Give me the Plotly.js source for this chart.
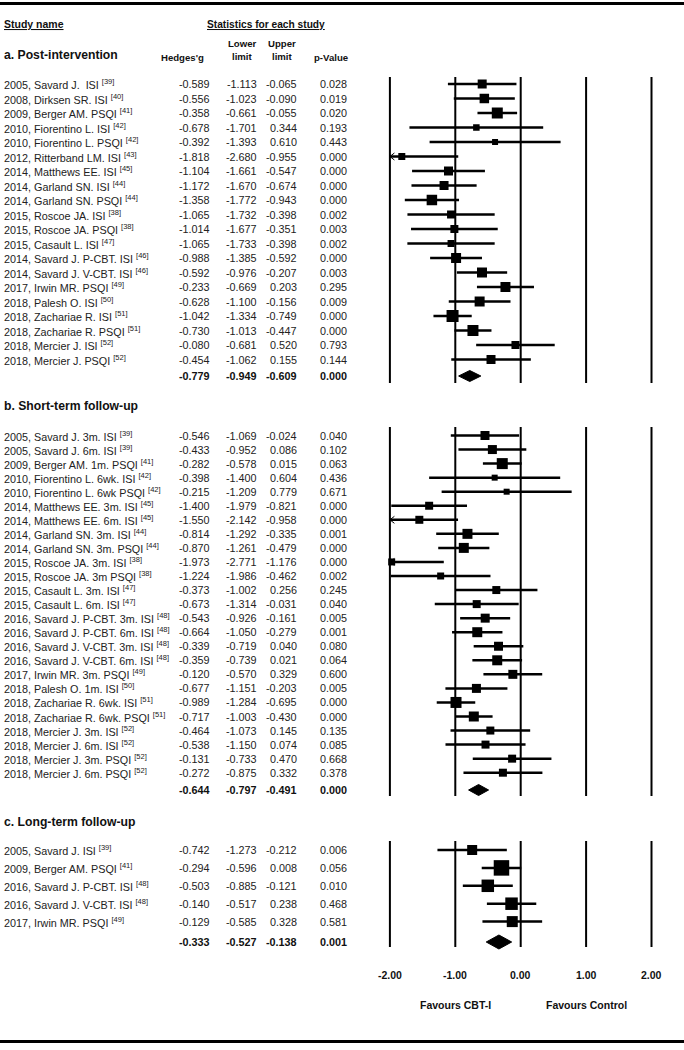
<!DOCTYPE html>
<html><head><meta charset="utf-8">
<script src="https://cdn.plot.ly/plotly-3.0.1.min.js"></script>
<style>html,body{margin:0;padding:0;background:#fff}#chart{width:684px;height:1050px}</style>
</head><body><div id="chart"></div>
<script>
// ---------- DATA ----------
const namesA = ["2005, Savard J.  ISI","2008, Dirksen SR. ISI","2009, Berger AM. PSQI","2010, Fiorentino L. ISI","2010, Fiorentino L. PSQI","2012, Ritterband LM. ISI","2014, Matthews EE. ISI","2014, Garland SN. ISI","2014, Garland SN. PSQI","2015, Roscoe JA. ISI","2015, Roscoe JA. PSQI","2015, Casault L. ISI","2014, Savard J. P-CBT. ISI","2014, Savard J. V-CBT. ISI","2017, Irwin MR. PSQI","2018, Palesh O. ISI","2018, Zachariae R. ISI","2018, Zachariae R. PSQI","2018, Mercier J. ISI","2018, Mercier J. PSQI"];
const refsA = [39,40,41,42,42,43,45,44,44,38,38,47,46,46,49,50,51,51,52,52];
const gA   = [-0.589,-0.556,-0.358,-0.678,-0.392,-1.818,-1.104,-1.172,-1.358,-1.065,-1.014,-1.065,-0.988,-0.592,-0.233,-0.628,-1.042,-0.730,-0.080,-0.454];
const lowA = [-1.113,-1.023,-0.661,-1.701,-1.393,-2.680,-1.661,-1.670,-1.772,-1.732,-1.677,-1.733,-1.385,-0.976,-0.669,-1.100,-1.334,-1.013,-0.681,-1.062];
const upA  = [-0.065,-0.090,-0.055,0.344,0.610,-0.955,-0.547,-0.674,-0.943,-0.398,-0.351,-0.398,-0.592,-0.207,0.203,-0.156,-0.749,-0.447,0.520,0.155];
const pA   = [0.028,0.019,0.020,0.193,0.443,0.000,0.000,0.000,0.000,0.002,0.003,0.002,0.000,0.003,0.295,0.009,0.000,0.000,0.793,0.144];
const weightA = [9,9.5,11,6.5,6,7,9,9,10.5,8,8,7,10,10,10,10,12,11,8,9];
const summaryA = [-0.779,-0.949,-0.609,0.000];

const namesB = ["2005, Savard J. 3m. ISI","2005, Savard J. 6m. ISI","2009, Berger AM. 1m. PSQI","2010, Fiorentino L. 6wk. ISI","2010, Fiorentino L. 6wk PSQI","2014, Matthews EE. 3m. ISI","2014, Matthews EE. 6m. ISI","2014, Garland SN. 3m. ISI","2014, Garland SN. 3m. PSQI","2015, Roscoe JA. 3m. ISI","2015, Roscoe JA. 3m PSQI","2015, Casault L. 3m. ISI","2015, Casault L. 6m. ISI","2016, Savard J. P-CBT. 3m. ISI","2016, Savard J. P-CBT. 6m. ISI","2016, Savard J. V-CBT. 3m. ISI","2016, Savard J. V-CBT. 6m. ISI","2017, Irwin MR. 3m. PSQI","2018, Palesh O. 1m. ISI","2018, Zachariae R. 6wk. ISI","2018, Zachariae R. 6wk. PSQI","2018, Mercier J. 3m. ISI","2018, Mercier J. 6m. ISI","2018, Mercier J. 3m. PSQI","2018, Mercier J. 6m. PSQI"];
const refsB = [39,39,41,42,42,45,45,44,44,38,38,47,47,48,48,48,48,49,50,51,51,52,52,52,52];
const gB   = [-0.546,-0.433,-0.282,-0.398,-0.215,-1.400,-1.550,-0.814,-0.870,-1.973,-1.224,-0.373,-0.673,-0.543,-0.664,-0.339,-0.359,-0.120,-0.677,-0.989,-0.717,-0.464,-0.538,-0.131,-0.272];
const lowB = [-1.069,-0.952,-0.578,-1.400,-1.209,-1.979,-2.142,-1.292,-1.261,-2.771,-1.986,-1.002,-1.314,-0.926,-1.050,-0.719,-0.739,-0.570,-1.151,-1.284,-1.003,-1.073,-1.150,-0.733,-0.875];
const upB  = [-0.024,0.086,0.015,0.604,0.779,-0.821,-0.958,-0.335,-0.479,-1.176,-0.462,0.256,-0.031,-0.161,-0.279,0.040,0.021,0.329,-0.203,-0.695,-0.430,0.145,0.074,0.470,0.332];
const pB   = [0.040,0.102,0.063,0.436,0.671,0.000,0.000,0.001,0.000,0.000,0.002,0.245,0.040,0.005,0.001,0.080,0.064,0.600,0.005,0.000,0.000,0.135,0.085,0.668,0.378];
const weightB = [9,9,11,6,6,8,8,10,10,7,7,8,8,9,10,9,10,9,9,11,10,8,8,8,8];
const summaryB = [-0.644,-0.797,-0.491,0.000];

const namesC = ["2005, Savard J. ISI","2009, Berger AM. PSQI","2016, Savard J. P-CBT. ISI","2016, Savard J. V-CBT. ISI","2017, Irwin MR. PSQI"];
const refsC = [39,41,48,48,49];
const gC   = [-0.742,-0.294,-0.503,-0.140,-0.129];
const lowC = [-1.273,-0.596,-0.885,-0.517,-0.585];
const upC  = [-0.212,0.008,-0.121,0.238,0.328];
const pC   = [0.006,0.056,0.010,0.468,0.581];
const weightC = [10,15.5,12.5,12.5,11];
const summaryC = [-0.333,-0.527,-0.138,0.001];

const tickVals = [-2,-1,0,1,2];
const tickText = ["-2.00","-1.00","0.00","1.00","2.00"];
const sectionTitles = ["a. Post-intervention","b. Short-term follow-up","c. Long-term follow-up"];

// ---------- LAYOUT CONSTANTS ----------
const W = 684, H = 1050;
const PX0 = 520.7, PXU = 65.4;          // pixel of x=0, pixels per unit
const XMIN = -2;
const FONT = "Liberation Sans, Arial, Helvetica, sans-serif";
const TXT = "#222";
const sections = [
  {title:sectionTitles[0], titleY:55, y0:84, dy:14.5, sumY:376, gTop:77, gBot:383, dh:5.5,
   names:namesA, refs:refsA, g:gA, lo:lowA, up:upA, p:pA, w:weightA, sum:summaryA},
  {title:sectionTitles[1], titleY:406, y0:435.5, dy:14.05, sumY:790, gTop:427, gBot:796, dh:5.5,
   names:namesB, refs:refsB, g:gB, lo:lowB, up:upB, p:pB, w:weightB, sum:summaryB},
  {title:sectionTitles[2], titleY:822, y0:850, dy:17.9, sumY:942, gTop:841, gBot:947, dh:7,
   names:namesC, refs:refsC, g:gC, lo:lowC, up:upC, p:pC, w:weightC, sum:summaryC}
];
const colRight = [211, 258, 298, 348]; // right edges of value columns (px)

const annotations = [];
function txt(px, y, text, o) {
  o = o || {};
  annotations.push({
    xref:"paper", yref:"y", x:px / W, y:y, text:text, showarrow:false,
    xanchor:o.anchor || "left", yanchor:"middle", align:o.align || "left",
    borderpad:0,
    font:{family:FONT, size:o.size || 11, color:o.color || TXT}
  });
}

// headers
txt(3, 24, "<b><u>Study name</u></b>", {size:10.5, color:"#111"});
txt(266, 24, "<b><u>Statistics for each study</u></b>", {size:10.2, anchor:"center", color:"#111"});
txt(182, 57, "<b>Hedges'g</b>", {size:9.6, anchor:"center", color:"#111"});
txt(242, 43, "<b>Lower</b>", {size:9.6, anchor:"center", color:"#111"});
txt(242, 56, "<b>limit</b>", {size:9.6, anchor:"center", color:"#111"});
txt(282, 43, "<b>Upper</b>", {size:9.6, anchor:"center", color:"#111"});
txt(282, 56, "<b>limit</b>", {size:9.6, anchor:"center", color:"#111"});
txt(331, 57, "<b>p-Value</b>", {size:9.6, anchor:"center", color:"#111"});

const ciX = [], ciY = [], sqX = [], sqY = [], sqS = [], arX = [], arY = [];
const shapes = [];
const traces = [];
const fmt = v => v.toFixed(3);

sections.forEach(s => {
  txt(3, s.titleY, "<b>" + s.title + "</b>", {size:12.2, color:"#111"});
  s.names.forEach((nm, i) => {
    const y = s.y0 + i * s.dy;
    txt(3, y, nm.replace(/  /g, " \u00a0") + " <sup>[" + s.refs[i] + "]</sup>", {size:10.8});
    [s.g[i], s.lo[i], s.up[i], s.p[i]].forEach((v, k) => txt(colRight[k], y, fmt(v), {anchor:"right", align:"right", size:10.8}));
    const lo = Math.max(s.lo[i], XMIN);
    ciX.push(lo, s.up[i], null); ciY.push(y, y, null);
    sqX.push(s.g[i]); sqY.push(y); sqS.push(s.w[i]);
    if (s.lo[i] < XMIN) {
      const dx = 4.5 / PXU;
      arX.push(XMIN + dx, XMIN, XMIN + dx, null); arY.push(y - 3.5, y, y + 3.5, null);
    }
  });
  // summary row
  s.sum.forEach((v, k) => txt(colRight[k], s.sumY, "<b>" + fmt(v) + "</b>", {anchor:"right", align:"right", color:"#111", size:10.8}));
  traces.push({
    type:"scatter", mode:"lines", fill:"toself", fillcolor:"#000",
    x:[s.sum[1], s.sum[0], s.sum[2], s.sum[0], s.sum[1]],
    y:[s.sumY, s.sumY - s.dh, s.sumY, s.sumY + s.dh, s.sumY],
    line:{color:"#000", width:1}, hoverinfo:"skip"
  });
  // vertical reference lines for the section
  tickVals.forEach(t => shapes.push({type:"line", xref:"x", yref:"y", x0:t, x1:t, y0:s.gTop, y1:s.gBot,
    layer:"below", line:{color:"#000", width:2}}));
});

traces.unshift(
  {type:"scatter", mode:"lines", x:ciX, y:ciY, line:{color:"#000", width:2.5}, hoverinfo:"skip"},
  {type:"scatter", mode:"lines", x:arX, y:arY, line:{color:"#000", width:1}, hoverinfo:"skip"},
  {type:"scatter", mode:"markers", x:sqX, y:sqY, opacity:1,
   marker:{symbol:"square", size:sqS, opacity:1, color:"#000", line:{width:0}}, hoverinfo:"skip"}
);

// axis tick labels & favours labels
tickVals.forEach((t, k) => annotations.push({xref:"x", yref:"y", x:t, y:975, text:"<b>" + tickText[k] + "</b>",
  showarrow:false, xanchor:"center", yanchor:"middle", font:{family:FONT, size:10.5, color:"#111"}}));
annotations.push({xref:"x", yref:"y", x:-1, y:1005, text:"<b>Favours CBT-I</b>", showarrow:false,
  xanchor:"center", yanchor:"middle", font:{family:FONT, size:10.5, color:"#111"}});
annotations.push({xref:"x", yref:"y", x:1, y:1005, text:"<b>Favours Control</b>", showarrow:false,
  xanchor:"center", yanchor:"middle", font:{family:FONT, size:10.5, color:"#111"}});

// top / bottom rules
shapes.push({type:"line", xref:"paper", yref:"y", x0:0, x1:1, y0:3.5, y1:3.5, line:{color:"#000", width:3}});
shapes.push({type:"line", xref:"paper", yref:"y", x0:0, x1:1, y0:1041.5, y1:1041.5, line:{color:"#000", width:3}});

const layout = {
  width:W, height:H, margin:{l:0, r:0, t:0, b:0, pad:0},
  paper_bgcolor:"#fff", plot_bgcolor:"#fff", showlegend:false, hovermode:false,
  xaxis:{range:[-PX0 / PXU, (W - PX0) / PXU], visible:false, fixedrange:true},
  yaxis:{range:[H, 0], visible:false, fixedrange:true},
  shapes:shapes, annotations:annotations
};
Plotly.newPlot("chart", traces, layout, {staticPlot:true, displayModeBar:false});
</script>
</body></html>
